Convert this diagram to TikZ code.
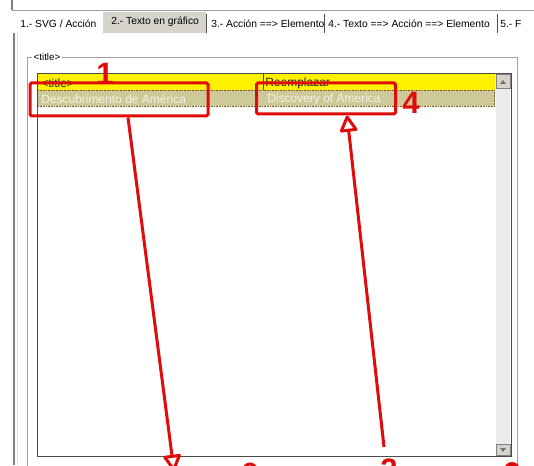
\documentclass[tikz,border=0pt]{standalone}
\usepackage{fontspec}
\setmainfont{Liberation Sans}
\usetikzlibrary{arrows.meta}
\definecolor{markred}{RGB}{224,12,12}
\definecolor{tabgray}{RGB}{214,211,204}
\definecolor{rowkhaki}{RGB}{205,201,152}
\definecolor{rowtext}{RGB}{244,242,226}
\definecolor{framegray}{RGB}{160,160,160}

\begin{document}
\begin{tikzpicture}[x=1pt, y=-1pt, semithick]
    \tikzset{
        redmark/.style={draw=markred, line width=3pt, rounded corners=1.5pt},
        numlabel/.style={text=markred, inner sep=0pt, font=\fontsize{31}{31}\selectfont\bfseries},
        tablabel/.style={anchor=west, inner sep=0pt, font=\fontsize{10.3}{12}\selectfont},
        celltext/.style={anchor=west, inner sep=0pt, font=\fontsize{12}{14}\selectfont},
        opentip/.style={-{Triangle[open, length=18pt, width=19pt, round]}}
    };
    \useasboundingbox (0,0) rectangle (534,465);
    \clip (0,0) rectangle (534,465);
    \fill[white] (0,0) rectangle (534,465);
    % Window border and tabs
    \draw[gray, line width=1.2pt] (12,0) -- (12,10);
    \draw[framegray] (12,10) -- (534,10);
    \fill[tabgray] (103,12) rectangle (206,33);
    \foreach \x in {206, 324, 497}{
        \draw[black!70] (\x,14) -- (\x,33);
    }
    \node[tablabel] (tabone) at (20,24) {1.- SVG / Acción};
    \node[tablabel] (tabtwo) at (111,22) {2.- Texto en gráfico};
    \node[tablabel] (tabthree) at (211,24) {3.- Acción ==> Elemento};
    \node[tablabel] (tabfour) at (328,24) {4.- Texto ==> Acción ==> Elemento};
    \node[tablabel] (tabfive) at (500,24) {5.- F};
    % Panel and group box
    \draw[gray, line width=1.2pt] (14,33) -- (14,465);
    \draw[black!15] (17,33) -- (17,465);
    \draw[framegray] (27,470) -- (27,57) -- (517,57) -- (517,470);
    \node[fill=white, inner sep=1.5pt, font=\fontsize{9.8}{11}\selectfont] (grouplabel) at (47,57) {<title>};
    % List box
    \fill[yellow] (38,73) rectangle (495,90);
    \fill[rowkhaki] (38,90) rectangle (495,106);
    \draw[brown!70!black, densely dotted] (38,90) -- (495,90) (38,106) -- (495,106) (494,90) -- (494,106);
    \draw[black!75] (38,73) -- (495,73);
    \draw[black!75] (263,73) -- (263,90);
    \node[celltext, text=black!85] (headtitle) at (41,83) {<title>};
    \node[celltext, text=black!85] (headrepl) at (265,83) {Reemplazar};
    \node[celltext, text=rowtext] (cellone) at (41,99) {Descubrimento de América};
    \node[celltext, text=rowtext] (celltwo) at (267,99) {Discovery of America};
    % Scrollbar
    \fill[black!8] (496,88) rectangle (510,444);
    \fill[tabgray] (496,74) rectangle (510,88);
    \draw[black!50] (496,74) rectangle (510,88);
    \fill[black!55] (500,84) -- (506,84) -- (503,80) -- cycle;
    \fill[tabgray] (496,444) rectangle (510,455);
    \draw[black!50] (496,444) rectangle (510,455);
    \fill[black!55] (500,448) -- (506,448) -- (503,452) -- cycle;
    \draw[black!70] (37,73) rectangle (511,456);
    % Red marks
    \node[redmark, minimum width=178pt, minimum height=33pt] (boxone) at (119,99.5) {};
    \node[redmark, minimum width=139pt, minimum height=31pt] (boxfour) at (326,98.5) {};
    \node[numlabel] (numone) at (105,73.5) {1};
    \node[numlabel] (numfour) at (411,102.5) {4};
    \node[numlabel] (numtwo) at (389,469.5) {2};
    \coordinate (tipone) at (174,471);
    \coordinate (tailtwo) at (384,447);
    \draw[redmark, opentip] ([xshift=9pt]boxone.south) -- (tipone);
    \draw[redmark, opentip] (tailtwo) -- ([xshift=21pt]boxfour.south);
    \draw[redmark] (250,470) circle (6);
    \fill[markred] (512,470) circle (8);
\end{tikzpicture}
\end{document}
